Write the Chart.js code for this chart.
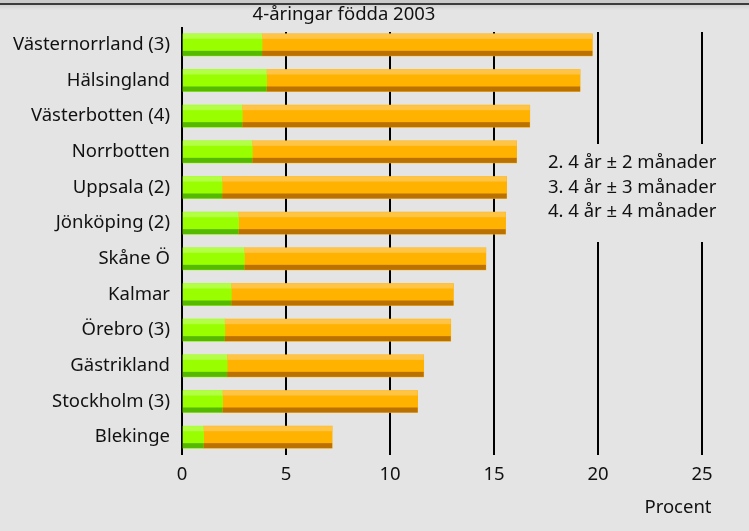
<!DOCTYPE html>
<html>
<head>
<meta charset="utf-8">
<script src="https://cdn.jsdelivr.net/npm/chart.js@4"></script>
<style>
    html, body { margin: 0; padding: 0; }
    body {
        width: 749px; height: 531px; overflow: hidden;
        background: linear-gradient(to bottom, #cacaca 0px, #cacaca 3px, #3c3c3c 3px, #3c3c3c 5px, #d2d2d2 5px, #e4e4e4 10px, #e4e4e4 100%);
    }
    #wrap { position: absolute; left: 0; top: 0; width: 749px; height: 531px; }
</style>
</head>
<body>
<div id="wrap"><canvas id="barChart" width="749" height="531"></canvas></div>
<script>
// data (procent)
const regions = ['Västernorrland (3)', 'Hälsingland', 'Västerbotten (4)', 'Norrbotten', 'Uppsala (2)', 'Jönköping (2)',
    'Skåne Ö', 'Kalmar', 'Örebro (3)', 'Gästrikland', 'Stockholm (3)', 'Blekinge'];
const greenPart = [3.85, 4.07, 2.90, 3.38, 1.93, 2.72, 3.00, 2.37, 2.06, 2.17, 1.95, 1.04];
const orangePart = [15.88, 15.07, 13.82, 12.71, 13.68, 12.84, 11.61, 10.68, 10.86, 9.45, 9.38, 6.18];
const xTicks = [0, 5, 10, 15, 20, 25];
const titleText = '4-åringar födda 2003';
const noteLines = ['2. 4 år ± 2 månader', '3. 4 år ± 3 månader', '4. 4 år ± 4 månader'];
const unitText = 'Procent';

const bg = '#e4e4e4';
const font = "'Noto Sans', sans-serif";
const fontSize = 18.5;

// light strip on top, dark strip at the bottom of each bar
const stripColors = [
    { top: '#b2ff45', bottom: '#55b900' },
    { top: '#ffc446', bottom: '#bb7100' }
];

const barShading = {
    id: 'barShading',
    afterDatasetsDraw(chart) {
        const c = chart.ctx;
        chart.data.datasets.forEach((ds, i) => {
            chart.getDatasetMeta(i).data.forEach(bar => {
                const left = Math.min(bar.x, bar.base);
                const w = Math.abs(bar.x - bar.base);
                const top = bar.y - bar.height / 2;
                c.fillStyle = stripColors[i].top;
                c.fillRect(left, top, w, 5);
                c.fillStyle = stripColors[i].bottom;
                c.fillRect(left, top + bar.height - 5, w, 5);
            });
        });
    }
};

const extraText = {
    id: 'extraText',
    beforeDatasetsDraw(chart) {
        const c = chart.ctx;
        const a = chart.chartArea;
        // gridlines start a bit below the plot top, and stop around the note
        c.fillStyle = bg;
        c.fillRect(a.left + 2, a.top - 1, a.right - a.left + 4, 6);
        c.fillRect(540, 144, 200, 98);
    },
    afterDraw(chart) {
        const c = chart.ctx;
        c.save();
        c.fillStyle = '#111';
        c.font = fontSize + 'px ' + font;
        c.textBaseline = 'middle';
        c.textAlign = 'center';
        c.fillText(titleText, 344, 15);
        c.textAlign = 'left';
        noteLines.forEach((t, i) => c.fillText(t, 548, 163 + i * 24.5));
        c.textAlign = 'center';
        c.fillText(unitText, 678, 508);
        c.restore();
    }
};

const ctx = document.getElementById('barChart').getContext('2d');

const barChart = new Chart(ctx, {
    type: 'bar',
    data: {
        labels: regions,
        datasets: [{
            label: 'grön',
            data: greenPart,
            backgroundColor: '#99ff00',
            borderWidth: 0
        },
        {
            label: 'orange',
            data: orangePart,
            backgroundColor: '#ffb200',
            borderWidth: 0
        }]
    },
    options: {
        indexAxis: 'y',
        responsive: false,
        animation: false,
        barThickness: 22,
        layout: { padding: { top: 27, right: 47, bottom: 0, left: 0 } },
        plugins: {
            legend: { display: false },
            tooltip: { enabled: false }
        },
        scales: {
            x: {
                stacked: true,
                min: 0,
                max: 25,
                afterFit: s => { s.height = 76; },
                afterBuildTicks: s => { s.ticks = xTicks.map(v => ({ value: v })); },
                grid: { color: '#000', lineWidth: 2, drawTicks: false },
                border: { display: false },
                ticks: { color: '#111', font: { family: font, size: fontSize }, padding: 9 }
            },
            y: {
                stacked: true,
                afterFit: s => { s.width = 182; },
                grid: { display: false, drawTicks: false },
                border: { display: false },
                ticks: { color: '#111', font: { family: font, size: fontSize }, padding: 12 }
            }
        }
    },
    plugins: [barShading, extraText]
});
</script>
</body>
</html>
